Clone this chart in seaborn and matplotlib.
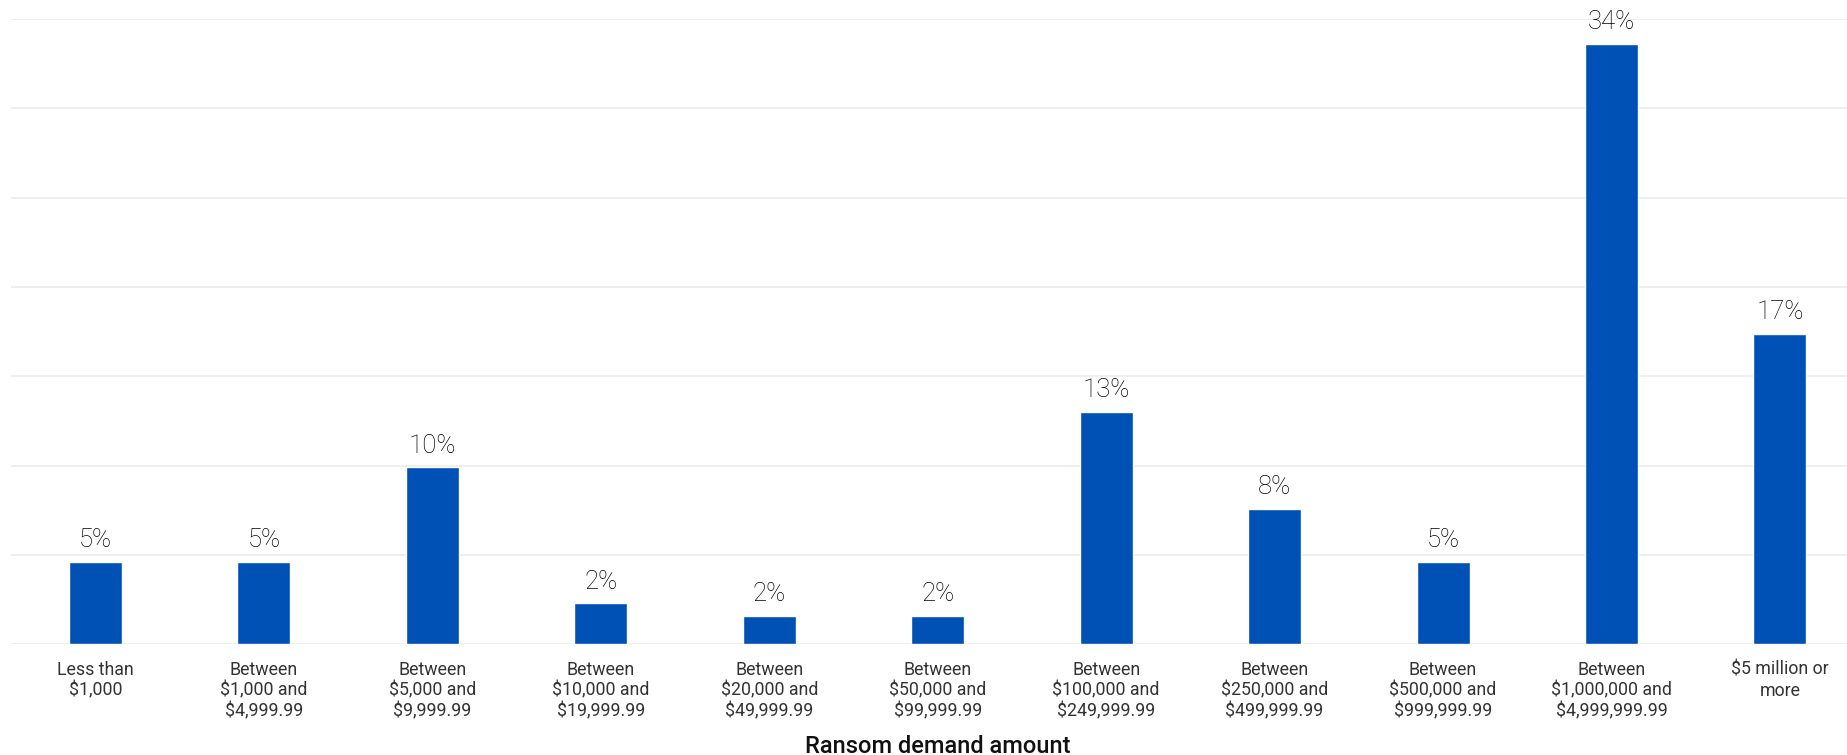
import matplotlib
matplotlib.use("Agg")
import matplotlib.pyplot as plt
import seaborn as sns
import pandas as pd
from matplotlib import font_manager

# Ransom demand bands and the share of respondents in each
categories = [
    "Less than\n$1,000",
    "Between\n$1,000 and\n$4,999.99",
    "Between\n$5,000 and\n$9,999.99",
    "Between\n$10,000 and\n$19,999.99",
    "Between\n$20,000 and\n$49,999.99",
    "Between\n$50,000 and\n$99,999.99",
    "Between\n$100,000 and\n$249,999.99",
    "Between\n$250,000 and\n$499,999.99",
    "Between\n$500,000 and\n$999,999.99",
    "Between\n$1,000,000 and\n$4,999,999.99",
    "$5 million or\nmore",
]
shares = [4.6, 4.6, 9.9, 2.3, 1.6, 1.6, 13.0, 7.6, 4.6, 33.6, 17.4]
y_ticks = [0, 5, 10, 15, 20, 25, 30, 35]
x_title = "Ransom demand amount"

bar_color = "#0051B5"
grid_color = "#EBEBEB"

sns.set_theme(style="white")
installed = {f.name for f in font_manager.fontManager.ttflist}
family = "Roboto" if "Roboto" in installed else "DejaVu Sans"
plt.rcParams["font.family"] = [family, "DejaVu Sans"]

df = pd.DataFrame({"band": categories, "share": shares})

fig = plt.figure(figsize=(18.47, 7.55), dpi=100)
ax = fig.add_axes([0.00606, 0.1466, 1.00324, 0.8280])

sns.barplot(data=df, x="band", y="share", color=bar_color, width=0.315,
            saturation=1, ax=ax, zorder=3)

ax.set_ylim(0, 35)
ax.set_yticks(y_ticks)
ax.yaxis.grid(True, color=grid_color, linewidth=1.2, zorder=0)
ax.set_axisbelow(True)
ax.tick_params(axis="y", left=False, labelleft=False)
ax.tick_params(axis="x", bottom=False, pad=6, labelsize=12.8, labelcolor="#333333")
for lbl in ax.get_xticklabels():
    lbl.set_fontweight("normal")
    lbl.set_linespacing(1.18)
for s in ax.spines.values():
    s.set_visible(False)

ax.set_ylabel("")
ax.set_xlabel(x_title, fontsize=17, color="#111111", fontweight="medium", labelpad=10.5)

# value labels above each bar
for container in ax.containers:
    for bar, v in zip(container, shares):
        ax.annotate(f"{v:.0f}%",
                    (bar.get_x() + bar.get_width() / 2, bar.get_height()),
                    xytext=(0, 7), textcoords="offset points",
                    ha="center", va="bottom", fontsize=18.5, color="#000000",
                    fontweight="light", annotation_clip=False)

fig.savefig("out.png", dpi=100, facecolor="white")
